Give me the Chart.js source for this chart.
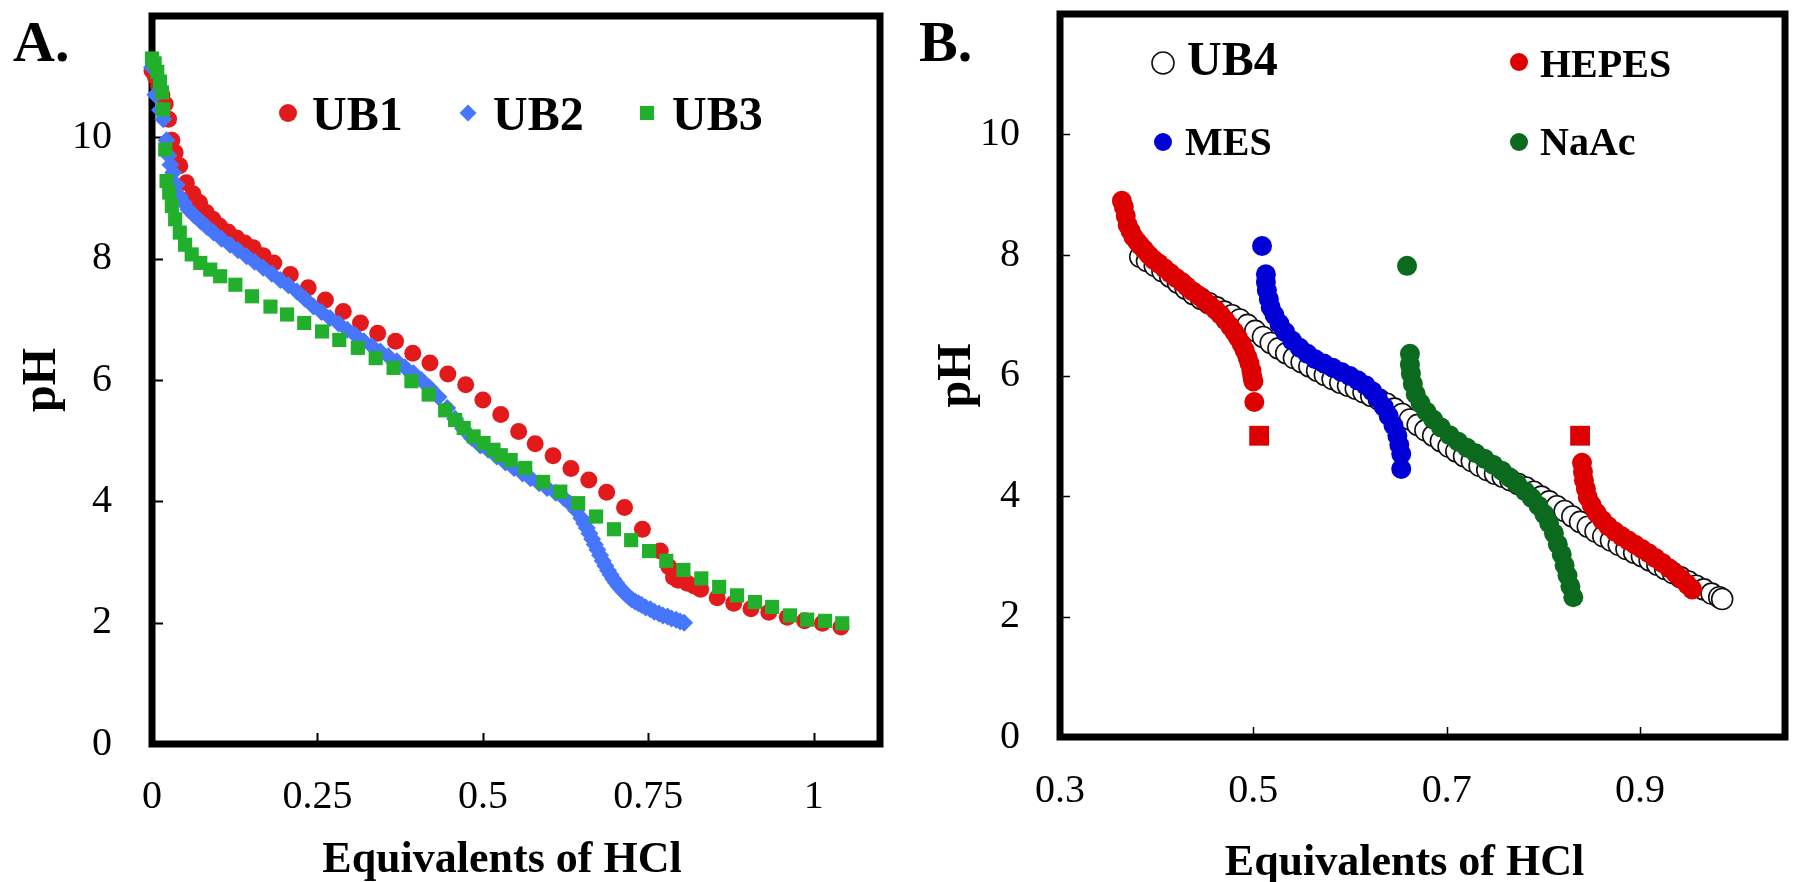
<!DOCTYPE html>
<html><head><meta charset="utf-8">
<script src="https://cdn.jsdelivr.net/npm/chart.js@4.4.1/dist/chart.umd.min.js"></script>
<style>
html,body{margin:0;padding:0;background:#fff;width:1800px;height:882px;overflow:hidden}
#wrapA{position:absolute;left:0;top:0;width:900px;height:882px}
#wrapB{position:absolute;left:900px;top:0;width:900px;height:882px}
</style></head><body>
<div id="wrapA"><canvas id="cA" width="900" height="882"></canvas></div>
<div id="wrapB"><canvas id="cB" width="900" height="882"></canvas></div>
<script>
// ---------- Panel A data ----------
const ub1X = [0.000,0.005,0.010,0.015,0.020,0.025,0.030,0.035,0.042,0.052,0.062,0.072,0.082,0.092,0.102,0.115,0.128,0.140,0.153,0.168,0.184,0.209,0.236,0.262,0.289,0.315,0.341,0.368,0.394,0.420,0.447,0.474,0.500,0.527,0.554,0.579,0.606,0.633,0.660,0.687,0.714,0.741,0.768,0.781,0.788,0.795,0.809,0.820,0.829,0.854,0.879,0.905,0.932,0.960,0.986,1.013,1.041];
const ub1PH = [11.10,11.00,10.85,10.70,10.55,10.30,9.95,9.75,9.53,9.25,9.07,8.92,8.76,8.65,8.54,8.44,8.34,8.26,8.18,8.05,7.93,7.74,7.52,7.32,7.13,6.94,6.77,6.64,6.44,6.28,6.10,5.92,5.67,5.43,5.15,4.95,4.75,4.54,4.35,4.15,3.90,3.54,3.18,2.92,2.75,2.70,2.65,2.60,2.55,2.41,2.32,2.23,2.17,2.09,2.03,1.99,1.93];

const ub2X = [0.000,0.005,0.012,0.017,0.022,0.025,0.028,0.032,0.037,0.042,0.048,0.055,0.064,0.073,0.083,0.093,0.105,0.118,0.130,0.143,0.155,0.168,0.181,0.194,0.206,0.219,0.231,0.244,0.256,0.269,0.282,0.295,0.307,0.320,0.332,0.345,0.357,0.370,0.382,0.395,0.407,0.420,0.433,0.446,0.458,0.470,0.483,0.496,0.508,0.521,0.534,0.547,0.560,0.572,0.585,0.597,0.610,0.622,0.632,0.641,0.649,0.653,0.657,0.661,0.665,0.669,0.673,0.677,0.681,0.685,0.689,0.693,0.697,0.701,0.705,0.709,0.713,0.717,0.721,0.725,0.730,0.735,0.740,0.746,0.753,0.759,0.766,0.772,0.779,0.785,0.792,0.798,0.804];
const ub2PH = [11.15,10.70,10.45,10.30,9.95,9.70,9.55,9.42,9.22,9.03,8.92,8.81,8.71,8.62,8.52,8.43,8.33,8.23,8.14,8.04,7.95,7.85,7.75,7.65,7.56,7.46,7.34,7.21,7.12,7.02,6.93,6.83,6.74,6.64,6.56,6.47,6.39,6.31,6.21,6.11,6.00,5.87,5.72,5.54,5.36,5.20,5.05,4.92,4.85,4.74,4.64,4.55,4.46,4.38,4.30,4.22,4.14,4.06,3.96,3.85,3.72,3.64,3.56,3.47,3.38,3.29,3.20,3.11,3.02,2.94,2.86,2.79,2.72,2.66,2.60,2.55,2.50,2.46,2.42,2.38,2.35,2.32,2.29,2.25,2.22,2.18,2.15,2.12,2.10,2.07,2.05,2.02,2.00];

const ub3X = [0.000,0.004,0.008,0.012,0.015,0.017,0.020,0.022,0.026,0.030,0.035,0.042,0.050,0.060,0.073,0.088,0.103,0.126,0.151,0.179,0.204,0.230,0.257,0.283,0.311,0.338,0.365,0.392,0.418,0.443,0.458,0.471,0.486,0.501,0.516,0.527,0.542,0.564,0.591,0.617,0.644,0.671,0.698,0.724,0.751,0.777,0.803,0.830,0.857,0.884,0.911,0.937,0.964,0.990,1.017,1.043];
const ub3PH = [11.30,11.22,11.08,10.92,10.74,10.46,9.80,9.28,9.09,8.87,8.65,8.43,8.23,8.07,7.93,7.82,7.71,7.57,7.38,7.21,7.08,6.94,6.80,6.66,6.53,6.36,6.20,5.98,5.76,5.50,5.34,5.21,5.07,4.96,4.85,4.76,4.68,4.55,4.32,4.16,3.97,3.75,3.54,3.36,3.18,3.02,2.87,2.73,2.59,2.45,2.34,2.26,2.12,2.05,2.03,1.99];

const xTicksA = [0, 0.25, 0.5, 0.75, 1];
const xTickLabelsA = ['0', '0.25', '0.5', '0.75', '1'];
const yTicks = [0, 2, 4, 6, 8, 10];
const yTickLabels = ['0', '2', '4', '6', '8', '10'];

// ---------- Panel B data ----------
const ub4X = [0.383,0.390,0.398,0.406,0.414,0.422,0.430,0.438,0.446,0.454,0.462,0.470,0.478,0.486,0.494,0.502,0.510,0.518,0.526,0.534,0.542,0.550,0.558,0.566,0.574,0.582,0.590,0.598,0.606,0.614,0.622,0.630,0.638,0.646,0.654,0.662,0.670,0.678,0.686,0.694,0.702,0.710,0.718,0.726,0.734,0.742,0.750,0.758,0.766,0.774,0.782,0.790,0.798,0.806,0.814,0.822,0.830,0.838,0.846,0.854,0.862,0.870,0.878,0.886,0.894,0.902,0.910,0.918,0.926,0.934,0.942,0.950,0.958,0.966,0.974,0.982,0.985];
const ub4PH = [7.97,7.90,7.82,7.73,7.64,7.54,7.44,7.35,7.27,7.20,7.13,7.06,7.00,6.93,6.84,6.74,6.64,6.54,6.45,6.37,6.29,6.22,6.15,6.08,6.01,5.94,5.88,5.83,5.78,5.72,5.66,5.60,5.53,5.45,5.36,5.27,5.18,5.09,5.00,4.91,4.82,4.74,4.66,4.58,4.50,4.43,4.37,4.32,4.26,4.20,4.14,4.07,3.99,3.91,3.83,3.75,3.66,3.57,3.49,3.41,3.33,3.26,3.19,3.12,3.06,3.00,2.93,2.86,2.79,2.72,2.65,2.58,2.51,2.45,2.38,2.32,2.29];

const hepesX = [0.364,0.366,0.368,0.370,0.373,0.376,0.380,0.383,0.387,0.392,0.397,0.402,0.408,0.414,0.420,0.426,0.431,0.437,0.443,0.449,0.455,0.461,0.466,0.471,0.476,0.480,0.484,0.488,0.491,0.494,0.496,0.498,0.499,0.500,0.501,
                0.840,0.841,0.842,0.844,0.846,0.850,0.855,0.861,0.867,0.874,0.881,0.888,0.895,0.902,0.909,0.916,0.923,0.930,0.937,0.943,0.949,0.954];
const hepesPH = [8.90,8.80,8.65,8.50,8.40,8.30,8.22,8.16,8.09,8.00,7.92,7.86,7.78,7.70,7.62,7.55,7.48,7.40,7.33,7.25,7.17,7.09,7.01,6.92,6.82,6.73,6.63,6.52,6.42,6.30,6.20,6.08,5.98,5.90,5.56,
                 4.55,4.40,4.26,4.12,3.98,3.85,3.72,3.60,3.50,3.41,3.33,3.26,3.19,3.12,3.05,2.97,2.89,2.80,2.71,2.62,2.53,2.45];
const endX = [0.506, 0.838];
const endPH = [5.0, 5.0];

const mesX = [0.509,0.513,0.513,0.514,0.516,0.518,0.522,0.527,0.533,0.540,0.548,0.556,0.564,0.573,0.582,0.591,0.600,0.608,0.616,0.623,0.629,0.635,0.640,0.645,0.649,0.651,0.653,0.653];
const mesPH = [8.15,7.68,7.55,7.41,7.27,7.13,7.00,6.86,6.72,6.58,6.46,6.36,6.27,6.20,6.13,6.06,5.99,5.92,5.84,5.74,5.62,5.48,5.33,5.17,5.00,4.85,4.70,4.45];

const naacX = [0.659,0.662,0.662,0.663,0.665,0.668,0.673,0.679,0.686,0.694,0.703,0.712,0.721,0.730,0.739,0.748,0.757,0.765,0.773,0.781,0.788,0.795,0.801,0.806,0.811,0.815,0.819,0.822,0.825,0.828,0.831];
const naacPH = [7.82,6.36,6.18,6.03,5.86,5.69,5.54,5.40,5.27,5.14,5.01,4.90,4.80,4.71,4.62,4.52,4.42,4.31,4.20,4.08,3.97,3.84,3.70,3.55,3.38,3.20,3.03,2.85,2.68,2.50,2.32];

const xTicksB = [0.3, 0.5, 0.7, 0.9];
const xTickLabelsB = ['0.3', '0.5', '0.7', '0.9'];

const namesA = ['UB1', 'UB2', 'UB3'];
const namesB = ['UB4', 'HEPES', 'MES', 'NaAc'];
const xTitle = 'Equivalents of HCl';
const yTitle = 'pH';

// ---------- rendering ----------
const SERIF = "'Liberation Serif', 'Times New Roman', serif";
const pts = (xs, ys) => xs.map((x, i) => ({ x: x, y: ys[i] }));

const framePlugin = {
  id: 'frame',
  beforeDatasetsDraw(chart, args, o) {
    const ctx = chart.ctx, ca = chart.chartArea;
    const xs = chart.scales.x, ys = chart.scales.y;
    ctx.save();
    ctx.strokeStyle = '#000';
    ctx.lineWidth = o.tickWidth;
    ctx.beginPath();
    ys.ticks.forEach(t => {
      const py = Math.round(ys.getPixelForValue(t.value)) + 0.5;
      ctx.moveTo(ca.left, py); ctx.lineTo(ca.left + o.tickLen, py);
    });
    xs.ticks.forEach(t => {
      const px = Math.round(xs.getPixelForValue(t.value)) + 0.5;
      ctx.moveTo(px, ca.bottom); ctx.lineTo(px, ca.bottom - o.tickLen);
    });
    ctx.stroke();
    ctx.lineWidth = o.lineWidth;
    ctx.lineJoin = 'miter';
    ctx.strokeRect(ca.left, ca.top, ca.right - ca.left, ca.bottom - ca.top);
    ctx.restore();
  }
};

const annotPlugin = {
  id: 'annot',
  afterDatasetsDraw(chart, args, o) {
    const ctx = chart.ctx, ca = chart.chartArea;
    ctx.save();
    ctx.textAlign = 'left';
    ctx.textBaseline = 'alphabetic';
    ctx.fillStyle = '#000';
    ctx.font = 'bold ' + o.panelSize + 'px ' + SERIF;
    ctx.fillText(o.panel, o.panelX, o.panelY);
    ctx.textAlign = 'center';
    ctx.font = 'bold ' + o.xTitleSize + 'px ' + SERIF;
    ctx.fillText(o.xTitle, (ca.left + ca.right) / 2 + o.xTitleDx, o.xTitleY);
    ctx.textAlign = 'left';
    o.items.forEach(it => {
      ctx.fillStyle = it.fill;
      ctx.strokeStyle = it.stroke;
      ctx.lineWidth = it.bw;
      Chart.helpers.drawPoint(ctx, { pointStyle: it.style, radius: it.r, borderWidth: it.bw, rotation: 0 }, ca.left + it.mx, ca.top + it.my);
      ctx.fillStyle = '#000';
      ctx.font = 'bold ' + it.size + 'px ' + SERIF;
      ctx.fillText(it.label, ca.left + it.tx, ca.top + it.ty);
    });
    ctx.restore();
  }
};

function axisCfg(min, max, ticks, labels, isX, fixedSize, pad, title, titlePad) {
  return {
    type: 'linear', min: min, max: max,
    afterBuildTicks: s => { s.ticks = ticks.map(v => ({ value: v })); },
    afterFit: s => {
      if (isX) s.height = fixedSize; else s.width = fixedSize;
      s.paddingTop = 0; s.paddingBottom = 0; s.paddingLeft = 0; s.paddingRight = 0;
    },
    grid: { display: false, drawTicks: false },
    border: { display: false },
    ticks: {
      autoSkip: false, maxRotation: 0, minRotation: 0, padding: pad, color: '#000',
      font: { family: SERIF, size: 40, lineHeight: 1.2 },
      callback: (v, i) => labels[i]
    },
    title: {
      display: !isX, text: title, color: '#000',
      font: { family: SERIF, size: 48, weight: 'bold', lineHeight: 1 },
      padding: titlePad
    }
  };
}

const RED_A = '#e31a1c', BLUE_A = '#4676fb', GREEN_A = '#22b02c';
const RED_B = '#dc0000', BLUE_B = '#0000d6', GREEN_B = '#0b6a1e';

new Chart(document.getElementById('cA'), {
  type: 'scatter',
  data: { datasets: [
    { label: namesA[2], data: pts(ub3X, ub3PH), pointStyle: 'rect', pointRadius: 10, backgroundColor: GREEN_A, borderColor: GREEN_A, borderWidth: 0, clip: false },
    { label: namesA[1], data: pts(ub2X, ub2PH), pointStyle: 'rectRot', pointRadius: 9, backgroundColor: BLUE_A, borderColor: BLUE_A, borderWidth: 0, clip: false },
    { label: namesA[0], data: pts(ub1X, ub1PH), pointStyle: 'circle', pointRadius: 8.5, backgroundColor: RED_A, borderColor: RED_A, borderWidth: 0, clip: false }
  ]},
  options: {
    responsive: false, animation: false, events: [],
    layout: { padding: { top: 16, right: 20, left: 0, bottom: 0 } },
    plugins: {
      legend: { display: false }, tooltip: { enabled: false },
      frame: { lineWidth: 7, tickLen: 11, tickWidth: 2 },
      annot: {
        panel: 'A.', panelSize: 58, panelX: 13, panelY: 61,
        xTitle: xTitle, xTitleSize: 44, xTitleDx: -14, xTitleY: 872,
        items: [
          { label: namesA[0], style: 'circle', r: 9, fill: RED_A, stroke: RED_A, bw: 0, mx: 136, my: 97, tx: 160, ty: 114, size: 48 },
          { label: namesA[1], style: 'rectRot', r: 8.5, fill: BLUE_A, stroke: BLUE_A, bw: 0, mx: 316, my: 97, tx: 341, ty: 114, size: 48 },
          { label: namesA[2], style: 'rect', r: 10, fill: GREEN_A, stroke: GREEN_A, bw: 0, mx: 495, my: 97, tx: 520, ty: 114, size: 48 }
        ]
      }
    },
    scales: {
      x: axisCfg(0, 1.1, xTicksA, xTickLabelsA, true, 138, 29, xTitle, { top: 0, bottom: 0 }),
      y: axisCfg(0, 12, yTicks, yTickLabels, false, 152, 40, yTitle, { top: 19, bottom: 0 })
    }
  },
  plugins: [framePlugin, annotPlugin]
});

new Chart(document.getElementById('cB'), {
  type: 'scatter',
  data: { datasets: [
    { label: namesB[1], data: pts(hepesX, hepesPH), pointStyle: 'circle', pointRadius: 10, backgroundColor: RED_B, borderColor: RED_B, borderWidth: 0, clip: false },
    { label: namesB[1] + ' end', data: pts(endX, endPH), pointStyle: 'rect', pointRadius: 14, backgroundColor: RED_B, borderColor: RED_B, borderWidth: 0, clip: false },
    { label: namesB[2], data: pts(mesX, mesPH), pointStyle: 'circle', pointRadius: 10, backgroundColor: BLUE_B, borderColor: BLUE_B, borderWidth: 0, clip: false },
    { label: namesB[3], data: pts(naacX, naacPH), pointStyle: 'circle', pointRadius: 10, backgroundColor: GREEN_B, borderColor: GREEN_B, borderWidth: 0, clip: false },
    { label: namesB[0], data: pts(ub4X, ub4PH), pointStyle: 'circle', pointRadius: 10.5, backgroundColor: '#ffffff', borderColor: '#111111', borderWidth: 1.6, clip: false }
  ]},
  options: {
    responsive: false, animation: false, events: [],
    layout: { padding: { top: 14, right: 15, left: 0, bottom: 0 } },
    plugins: {
      legend: { display: false }, tooltip: { enabled: false },
      frame: { lineWidth: 7, tickLen: 10, tickWidth: 1.5 },
      annot: {
        panel: 'B.', panelSize: 58, panelX: 19, panelY: 61,
        xTitle: xTitle, xTitleSize: 44, xTitleDx: -18, xTitleY: 875,
        items: [
          { label: namesB[0], style: 'circle', r: 11, fill: '#ffffff', stroke: '#111111', bw: 1.6, mx: 103, my: 49, tx: 127, ty: 61, size: 48 },
          { label: namesB[2], style: 'circle', r: 9, fill: BLUE_B, stroke: BLUE_B, bw: 0, mx: 103, my: 128, tx: 125, ty: 141, size: 40 },
          { label: namesB[1], style: 'circle', r: 9, fill: RED_B, stroke: RED_B, bw: 0, mx: 459, my: 48, tx: 480, ty: 63, size: 40 },
          { label: namesB[3], style: 'circle', r: 9, fill: GREEN_B, stroke: GREEN_B, bw: 0, mx: 459, my: 128, tx: 480, ty: 141, size: 40 }
        ]
      }
    },
    scales: {
      x: axisCfg(0.3, 1.05, xTicksB, xTickLabelsB, true, 145, 30, xTitle, { top: 0, bottom: 0 }),
      y: axisCfg(0, 12, yTicks, yTickLabels, false, 160, 40, yTitle, { top: 34, bottom: 0 })
    }
  },
  plugins: [framePlugin, annotPlugin]
});
</script>
</body></html>
